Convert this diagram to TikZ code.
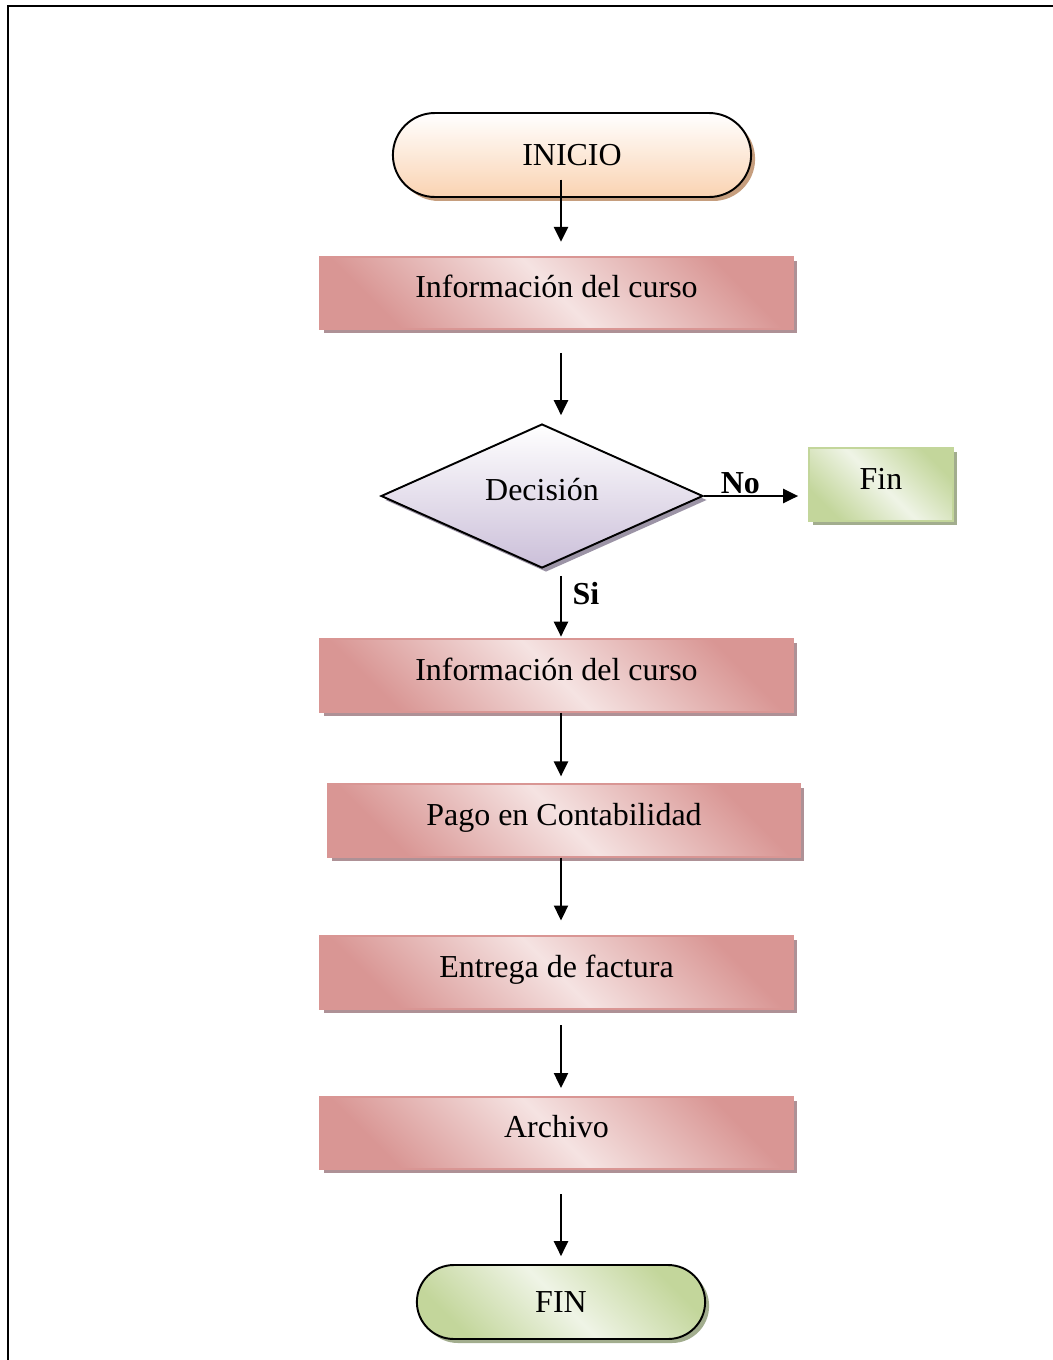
\documentclass[tikz,border=0pt]{standalone}
\usepackage{fontspec}
\setmainfont{Liberation Serif}
\usetikzlibrary{shapes.geometric, shapes.misc, shadows, arrows.meta}
\definecolor{rosaOsc}{HTML}{D99694}
\definecolor{rosaCla}{HTML}{F5E3E2}
\definecolor{rosaSombra}{HTML}{AE9196}
\definecolor{verdeOsc}{HTML}{C3D69B}
\definecolor{verdeCla}{HTML}{EFF4E6}
\definecolor{verdeSombra}{HTML}{A2AD8E}
\definecolor{durazno}{HTML}{FAD3B2}
\definecolor{duraznoSombra}{HTML}{C69E7E}
\definecolor{lila}{HTML}{CBBFD9}
\definecolor{lilaSombra}{HTML}{9C94A6}

\begin{document}
\begin{tikzpicture}[x = 0.02cm, y = -0.02cm,
    every node/.style = {font = \fontsize{18.2}{22}\selectfont},
    subido/.style = {text height = 0.7em, text depth = 0.18em},
    etiqueta/.style = {font = \fontsize{18.2}{22}\selectfont\bfseries, inner sep = 1pt,
        text height = 0.7em, text depth = 0pt},
    sombra/.style = {drop shadow = {shadow xshift = 0.08cm, shadow yshift = -0.08cm, fill = #1, opacity = 1}},
    proceso/.style = {rectangle, draw = rosaOsc, line width = 1pt, subido,
        minimum width = 9.46cm, minimum height = 1.45cm,
        top color = rosaOsc, bottom color = rosaOsc, middle color = rosaCla, shading angle = -45,
        sombra = rosaSombra},
    inicio/.style = {rounded rectangle, draw, line width = 1.1pt,
        minimum width = 7.4cm, minimum height = 1.68cm,
        top color = white, bottom color = durazno, sombra = duraznoSombra},
    terminal/.style = {rounded rectangle, draw, line width = 1.1pt,
        minimum width = 6cm, minimum height = 1.48cm,
        top color = verdeOsc, bottom color = verdeOsc, middle color = verdeCla, shading angle = -45,
        sombra = verdeSombra},
    finbox/.style = {rectangle, draw = verdeOsc, line width = 1pt, subido,
        minimum width = 2.88cm, minimum height = 1.46cm,
        top color = verdeOsc, bottom color = verdeOsc, middle color = verdeCla, shading angle = -45,
        sombra = verdeSombra},
    decision/.style = {diamond, aspect = 2.24, draw, line width = 1.1pt, subido,
        minimum width = 6.44cm, minimum height = 2.88cm,
        top color = white, bottom color = lila, sombra = lilaSombra},
    flecha/.style = {line width = 1.2pt, -{Triangle[length = 8.5pt, width = 8pt]}}]

    \useasboundingbox (0,0) rectangle (1053,1360);
    \draw[line width = 1.7pt] (8,1360) -- (8,6) -- (1053,6);

    \node[inicio] (inicio) at (572,155) {INICIO};
    \node[proceso] (info1) at (556.5,293) {Información del curso};
    \node[decision] (dec) at (542,496) {Decisión};
    \node[finbox] (finno) at (881,484.5) {Fin};
    \node[proceso] (info2) at (556.5,675.5) {Información del curso};
    \node[proceso] (pago) at (564,820.5) {Pago en Contabilidad};
    \node[proceso] (entrega) at (556.5,972.5) {Entrega de factura};
    \node[proceso] (archivo) at (556.5,1133) {Archivo};
    \node[terminal] (fin) at (561,1302) {FIN};

    \coordinate (eje) at (561,0);

    \draw[flecha, shorten <= 14pt, shorten >= 8pt] (inicio.center -| eje) -- (info1.north -| eje);
    \draw[flecha, shorten <= 13pt, shorten >= 4.5pt] (info1.south -| eje) -- (dec.north -| eje);
    \draw[flecha, shorten <= 4pt, shorten >= 1pt] (dec.south -| eje) -- (info2.north -| eje)
        node[etiqueta, pos = 0.42, right = 5pt] {Si};
    \draw[flecha, shorten >= 4pt] (info2.south -| eje) -- (pago.north -| eje);
    \draw[flecha, shorten >= 8.5pt] (pago.south -| eje) -- (entrega.north -| eje);
    \draw[flecha, shorten <= 9pt, shorten >= 4.5pt] (entrega.south -| eje) -- (archivo.north -| eje);
    \draw[flecha, shorten <= 13.6pt, shorten >= 4.5pt] (archivo.south -| eje) -- (fin.north -| eje);
    \draw[flecha, shorten >= 5.7pt] (dec.east) -- (dec.east -| finno.west)
        node[etiqueta, pos = 0.35, above] {No};
\end{tikzpicture}
\end{document}
